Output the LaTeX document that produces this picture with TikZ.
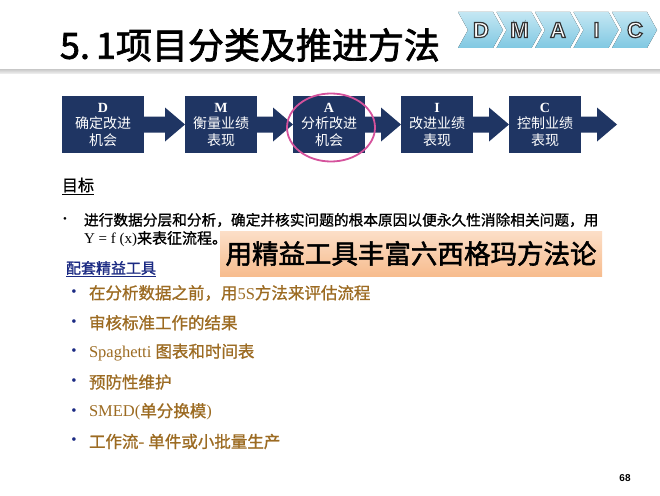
\documentclass[tikz,border=0pt]{standalone}
\usepackage{fontspec}
\setmainfont{Liberation Serif}
\newfontfamily\cjk[FakeBold=1]{Noto Sans CJK SC}
\newfontfamily\cjkr{Noto Sans CJK SC}
\newfontfamily\heiti[FakeBold=2]{Noto Sans CJK SC}
\newfontfamily\arialb{Liberation Sans}
\usetikzlibrary{shapes.geometric,calc}
\definecolor{navy}{HTML}{1F3563}
\definecolor{pinkc}{HTML}{D5529C}
\definecolor{brownc}{HTML}{9C6B22}
\definecolor{linkc}{HTML}{1B2A83}
\definecolor{chevl}{HTML}{C4E7F3}
\definecolor{chevd}{HTML}{80C8E2}
\definecolor{orl}{HTML}{FCDFC8}
\definecolor{ord}{HTML}{F7BC8E}
\newcommand\outl[1]{{\color{white}\special{pdf:literal direct 0.2 0.2 0.2 RG 1.2 w 2 Tr}#1\special{pdf:literal direct 0 Tr 1 1 1 RG 0.4 w}}}
\newcommand\blockarr[2]{%
  \fill[navy] ($(#1.east)+(0,-8)$) -- ($(#2.west)+(-20,-8)$) -- ($(#2.west)+(-20,-17)$) -- (#2.west)
    -- ($(#2.west)+(-20,17)$) -- ($(#2.west)+(-20,8)$) -- ($(#1.east)+(0,8)$) -- cycle;}
\begin{document}
\begin{tikzpicture}[x=1pt,y=-1pt,
  every node/.style={inner sep=0pt, outer sep=0pt},
  stepbox/.style={fill=navy, minimum height=57pt, minimum width=72pt, text=white, align=center,
    font=\fontsize{14}{16.5}\selectfont},
  lefttext/.style={anchor=west},
  item/.style={anchor=west, text=brownc, font=\fontsize{16.5}{20}\selectfont},
  dot/.style={text=linkc, font=\fontsize{15}{15}\selectfont}
]
\useasboundingbox (0,0) rectangle (660,495);
\fill[white] (0,0) rectangle (660,495);

% title
\node[lefttext] (title) at (60,45) {\fontsize{36}{40}\selectfont\heiti 5.\kern6pt 1项目分类及推进方法};
\fill[top color=black!22, bottom color=black!8] (0,69) rectangle (660,73);

% DMAIC chevrons
\foreach \lt [count=\i from 0] in {D,M,A,I,C} {
  \pgfmathsetmacro\xo{458+38.5*\i}
  \fill[top color=chevl, bottom color=chevd] (\xo,12) -- (\xo+35,12) -- (\xo+45,30) -- (\xo+35,48) -- (\xo,48) -- (\xo+10,30) -- cycle;
  \node[font=\fontsize{22}{24}\selectfont\arialb\bfseries] (ch\i) at (\xo+23,30) {\outl{\lt}};
}

% process boxes
\node[stepbox, minimum width=82pt] (D) at (103,124.5) {\textbf{D}\\{\cjkr 确定改进}\\{\cjkr 机会}};
\node[stepbox] (M) at (221,124.5) {\textbf{M}\\{\cjkr 衡量业绩}\\{\cjkr 表现}};
\node[stepbox] (A) at (329,124.5) {\textbf{A}\\{\cjkr 分析改进}\\{\cjkr 机会}};
\node[stepbox] (I) at (437,124.5) {\textbf{I}\\{\cjkr 改进业绩}\\{\cjkr 表现}};
\node[stepbox] (C) at (545,124.5) {\textbf{C}\\{\cjkr 控制业绩}\\{\cjkr 表现}};
\node[minimum size=0pt] (end) at (617,124.5) {};
\blockarr{D}{M}
\blockarr{M}{A}
\blockarr{A}{I}
\blockarr{I}{C}
\blockarr{C}{end}
\node[draw=pinkc, line width=1.8pt, ellipse, minimum width=88pt, minimum height=68pt] (hl) at (331,127.5) {};

% objective
\node[lefttext, font=\fontsize{16}{18}\selectfont] (goal) at (62,186) {\cjk\underline{目标}};
\node[font=\fontsize{11}{12}\selectfont] (b0) at (65,220) {•};
\node[lefttext, font=\fontsize{14.7}{18}\selectfont] (obj1) at (84,220) {\cjk 进行数据分层和分析，确定并核实问题的根本原因以便永久性消除相关问题，用};
\node[lefttext, font=\fontsize{15}{18}\selectfont] (obj2) at (84,239) {Y = f (x){\cjk 来表征流程。}};

\node[top color=orl, bottom color=ord, minimum width=382pt, minimum height=45pt,
  font=\fontsize{26.5}{30}\selectfont] (lean) at (411,253.5) {\heiti 用精益工具丰富六西格玛方法论};

\node[lefttext, text=linkc, font=\fontsize{15}{18}\selectfont] (tools) at (66,269) {\cjk\underline{配套精益工具}};

% tool list
\foreach \i in {0,...,5} {
  \node[dot] (d\i) at (74,{293+29.7*\i}) {•};
}
\node[item] (t0) at (89,293) {{\cjk 在分析数据之前，用}5S{\cjk 方法来评估流程}};
\node[item] (t1) at (89,322.7) {\cjk 审核标准工作的结果};
\node[item] (t2) at (89,352.4) {Spaghetti {\cjk 图表和时间表}};
\node[item] (t3) at (89,382.1) {\cjk 预防性维护};
\node[item] (t4) at (89,411.8) {SMED({\cjk 单分换模})};
\node[item] (t5) at (89,441.5) {{\cjk 工作流-} {\cjk 单件或小批量生产}};

\node[font=\fontsize{10}{12}\selectfont\arialb\bfseries] (pg) at (625,478) {68};
\end{tikzpicture}
\end{document}
